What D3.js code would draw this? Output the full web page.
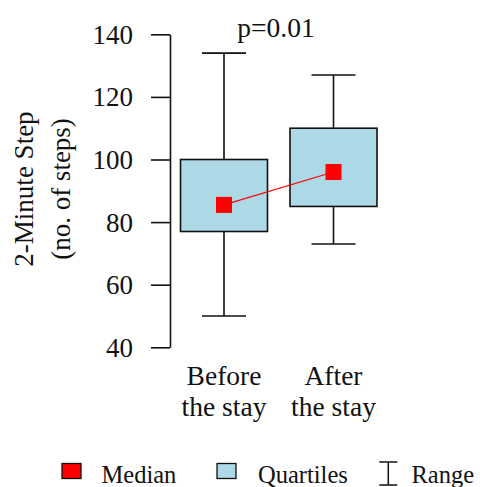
<!DOCTYPE html>
<html><head><meta charset="utf-8">
<script src="https://cdn.jsdelivr.net/npm/d3@7"></script>
<style>body{margin:0;background:#fff}svg{display:block}text{font-family:"Liberation Serif","Times New Roman",serif;fill:#111}</style>
</head><body>
<svg id="c" width="480" height="487"></svg>
<script>
const categories = ["Before\nthe stay", "After\nthe stay"];
const minValues = [50, 73];
const q1Values = [77, 85];
const medianValues = [85.5, 96];
const q3Values = [100, 110];
const maxValues = [134, 127];
const yTicks = [40, 60, 80, 100, 120, 140];
const pLabel = "p=0.01";
const yTitle = ["2-Minute Step", "(no. of steps)"];
const legendItems = ["Median", "Quartiles", "Range"];

const svg = d3.select("#c");
const y = d3.scaleLinear().domain([40, 140]).range([347.3, 34.3]);
const x = d3.scalePoint().domain(categories).range([224, 333.5]);
const boxW = 87, capW = 44;
const data = categories.map((c, i) => ({c, lo: minValues[i], q1: q1Values[i], med: medianValues[i], q3: q3Values[i], hi: maxValues[i]}));

// axis
const ax = svg.append("g").attr("transform", "translate(170,0)")
  .call(d3.axisLeft(y).tickValues(yTicks).tickSize(19).tickPadding(18).tickSizeOuter(0));
ax.select(".domain").attr("stroke", "#111").attr("stroke-width", 1.6);
ax.selectAll(".tick line").attr("stroke", "#111").attr("stroke-width", 1.6);
ax.selectAll(".tick text").attr("font-size", 27).attr("font-family", '"Liberation Serif",serif').attr("fill", "#111").attr("dy", "0.33em");

// y title
svg.append("g").attr("transform", "translate(0,189) rotate(-90)")
  .selectAll("text").data(yTitle).join("text")
  .attr("x", 0).attr("y", (d, i) => 33 + i * 37)
  .attr("text-anchor", "middle").attr("font-size", 27).text(d => d);

// whiskers
const g = svg.append("g");
data.forEach(d => {
  const cx = x(d.c);
  g.append("line").attr("x1", cx).attr("x2", cx).attr("y1", y(d.hi)).attr("y2", y(d.q3)).attr("stroke", "#111").attr("stroke-width", 1.6);
  g.append("line").attr("x1", cx).attr("x2", cx).attr("y1", y(d.q1)).attr("y2", y(d.lo)).attr("stroke", "#111").attr("stroke-width", 1.6);
  g.append("line").attr("x1", cx - capW / 2).attr("x2", cx + capW / 2).attr("y1", y(d.hi)).attr("y2", y(d.hi)).attr("stroke", "#111").attr("stroke-width", 1.6);
  g.append("line").attr("x1", cx - capW / 2).attr("x2", cx + capW / 2).attr("y1", y(d.lo)).attr("y2", y(d.lo)).attr("stroke", "#111").attr("stroke-width", 1.6);
  g.append("rect").attr("x", cx - boxW / 2).attr("width", boxW).attr("y", y(d.q3)).attr("height", y(d.q1) - y(d.q3))
    .attr("fill", "#add8e6").attr("stroke", "#111").attr("stroke-width", 1.6);
});

// median line + squares
g.append("path").datum(data).attr("d", d3.line().x(d => x(d.c)).y(d => y(d.med)))
  .attr("fill", "none").attr("stroke", "#ff0000").attr("stroke-width", 1.2);
g.selectAll("rect.med").data(data).join("rect").attr("class", "med")
  .attr("x", d => x(d.c) - 8).attr("y", d => y(d.med) - 8).attr("width", 16).attr("height", 16).attr("fill", "#ff0000");

// p label
svg.append("text").attr("x", 276).attr("y", 37).attr("text-anchor", "middle").attr("font-size", 27.5).text(pLabel);

// category labels
data.forEach(d => {
  const lines = d.c.split("\n");
  svg.append("text").attr("text-anchor", "middle").attr("font-size", 27.5)
    .selectAll("tspan").data(lines).join("tspan")
    .attr("x", x(d.c)).attr("y", (t, i) => 385 + i * 31).text(t => t);
});

// legend
const lg = svg.append("g");
lg.append("rect").attr("x", 62).attr("y", 463.5).attr("width", 19).attr("height", 15).attr("fill", "#ff0000").attr("stroke", "#111").attr("stroke-width", 1.3);
lg.append("text").attr("x", 101.5).attr("y", 483).attr("font-size", 24.5).text(legendItems[0]);
lg.append("rect").attr("x", 217).attr("y", 463.5).attr("width", 19).attr("height", 15).attr("fill", "#add8e6").attr("stroke", "#111").attr("stroke-width", 1.3);
lg.append("text").attr("x", 258).attr("y", 483).attr("font-size", 24.5).text(legendItems[1]);
const rx = 388.3;
lg.append("line").attr("x1", rx).attr("x2", rx).attr("y1", 462).attr("y2", 485).attr("stroke", "#111").attr("stroke-width", 1.5);
lg.append("line").attr("x1", rx - 9).attr("x2", rx + 9).attr("y1", 462).attr("y2", 462).attr("stroke", "#111").attr("stroke-width", 1.5);
lg.append("line").attr("x1", rx - 9).attr("x2", rx + 9).attr("y1", 485).attr("y2", 485).attr("stroke", "#111").attr("stroke-width", 1.5);
lg.append("text").attr("x", 411.5).attr("y", 483).attr("font-size", 24.5).text(legendItems[2]);
</script>
</body></html>
